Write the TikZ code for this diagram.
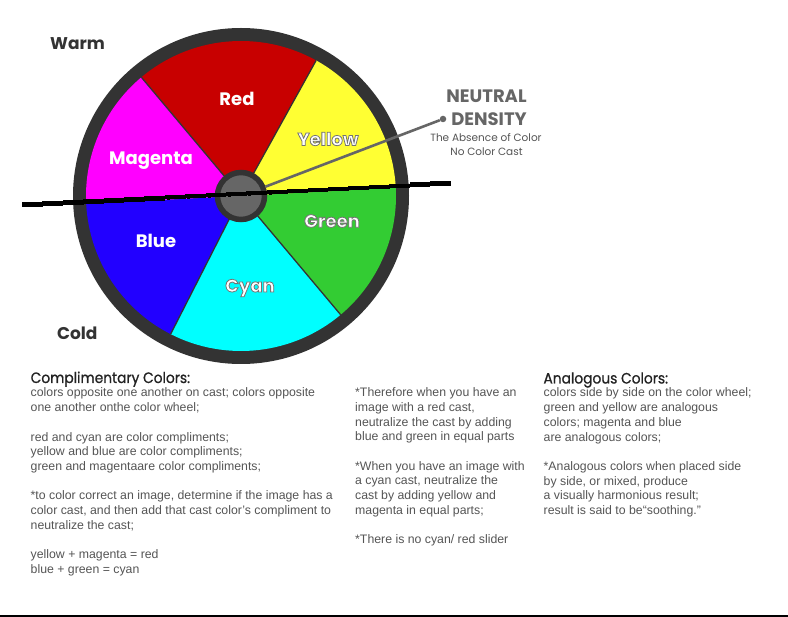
\documentclass[tikz,border=0pt]{standalone}
\usepackage{fontspec}
\setmainfont{Liberation Sans}
\newfontfamily\fut{Poppins}
\newfontfamily\futm{Poppins}[FakeBold=0.8, FakeStretch=0.92]
\definecolor{ringc}{HTML}{333333}
\definecolor{wred}{HTML}{C80000}
\definecolor{wyellow}{HTML}{FFFF33}
\definecolor{wmagenta}{HTML}{FF00FF}
\definecolor{wblue}{HTML}{2200FF}
\definecolor{wcyan}{HTML}{00FFFF}
\definecolor{wgreen}{HTML}{33CC33}
\definecolor{hubfill}{HTML}{666666}
\definecolor{bodytxt}{HTML}{555555}
\definecolor{titletxt}{HTML}{222222}
\newcommand\outlinetext[1]{\special{pdf:literal direct 2 Tr 0.8 w 0.45 0.45 0.45 RG}#1\special{pdf:literal direct 0 Tr}}
\tikzset{
  sector/.style={fill=#1},
  sepline/.style={draw=ringc, line width=1.3pt},
  wlabel/.style={text=white, font=\fut\bfseries\fontsize{18}{20}\selectfont, inner sep=0},
  olabel/.style={text=white, font=\fut\bfseries\fontsize{18}{20}\selectfont, inner sep=0},
  sidelabel/.style={text=ringc, font=\fut\bfseries\fontsize{17}{20}\selectfont, inner sep=0, anchor=base west},
  bodytext/.style={text=bodytxt, inner sep=0, anchor=base west},
  titletext/.style={text=titletxt, font=\futm\fontsize{15}{18}\selectfont, inner sep=0, anchor=base west},
}
\begin{document}
\begin{tikzpicture}[x=1pt,y=-1pt]
\useasboundingbox (0,0) rectangle (788,617);
\fill[white] (0,0) rectangle (788,617);
% wheel
\coordinate (c) at (241,196);
\fill[ringc] (c) circle (168pt);
\fill[sector=wyellow] (c) -- ++(3:155pt) arc[start angle=3, end angle=61, radius=155pt] -- cycle;
\fill[sector=wred] (c) -- ++(61:155pt) arc[start angle=61, end angle=130, radius=155pt] -- cycle;
\fill[sector=wmagenta] (c) -- ++(130:155pt) arc[start angle=130, end angle=183, radius=155pt] -- cycle;
\fill[sector=wblue] (c) -- ++(183:155pt) arc[start angle=183, end angle=243, radius=155pt] -- cycle;
\fill[sector=wcyan] (c) -- ++(243:155pt) arc[start angle=243, end angle=310, radius=155pt] -- cycle;
\fill[sector=wgreen] (c) -- ++(310:155pt) arc[start angle=310, end angle=363, radius=155pt] -- cycle;
\foreach \a in {61,130,243,310} \draw[sepline] (c) -- ++(\a:155pt);
% hub and pointer
\node[circle, minimum size=47pt, inner sep=0, fill=hubfill, draw=ringc, line width=5.5pt] (hub) at (c) {};
\node[circle, fill=hubfill, inner sep=0, minimum size=6.5pt] (dot) at (443,119) {};
\draw[hubfill, line width=2.6pt] (hub) -- (dot);
% slider: a stepped (jagged) slanted bar
\foreach \i in {0,...,20} {
  \pgfmathsetmacro\xx{22+20.4*\i}
  \pgfmathsetmacro\yy{205-0.0514*20.4*\i-2.6}
  \fill[black] (\xx,\yy) rectangle ++(20.8,4.4);
  \fill[black] (\xx+2,\yy+0.9) rectangle ++(3,3.8);
}
% wheel labels
\node[wlabel] (lred) at (237,99) {Red};
\node[wlabel] (lmag) at (151,161) {Magenta};
\node[wlabel] (lblue) at (156,241) {Blue};
\node[olabel] (lyel) at (328,139) {\outlinetext{Yellow}};
\node[olabel] (lgreen) at (332,221) {\outlinetext{Green}};
\node[olabel] (lcyan) at (250,288) {\outlinetext{Cyan}};
% side labels
\node[sidelabel] (warm) at (50,49.5) {Warm};
\node[sidelabel] (cold) at (57,340) {Cold};
% neutral density
\node[text=hubfill, font=\fut\bfseries\fontsize{18}{20}\selectfont, inner sep=0, anchor=base] (nd1) at (486.5,103) {NEUTRAL};
\node[text=hubfill, font=\fut\bfseries\fontsize{18}{20}\selectfont, inner sep=0, anchor=base] (nd2) at (489,126) {DENSITY};
\node[text=bodytxt, font=\fut\fontsize{10.5}{12}\selectfont, inner sep=0, anchor=base] (nd3) at (486,142) {The Absence of Color};
\node[text=bodytxt, font=\fut\fontsize{10.5}{12}\selectfont, inner sep=0, anchor=base] (nd4) at (486.5,156) {No Color Cast};
% titles
\node[titletext] (t1) at (30.5,383) {Complimentary Colors:};
\node[titletext] (t2) at (543.3,383.5) {Analogous Colors:};
% body
\node[bodytext] (b1) at (30.5,397) {\parbox[t]{320pt}{\fontsize{12.3}{14.7}\selectfont\raggedright
colors opposite one another on cast; colors opposite\\
one another onthe color wheel;\\
~\\
red and cyan are color compliments;\\
yellow and blue are color compliments;\\
green and magentaare color compliments;\\
~\\
{*}to color correct an image, determine if the image has a\\
color cast, and then add that cast color’s compliment to\\
neutralize the cast;\\
~\\
yellow + magenta = red\\
blue + green = cyan}};
\node[bodytext] (b2) at (355,396.7) {\parbox[t]{200pt}{\fontsize{12.3}{14.7}\selectfont\raggedright
{*}Therefore when you have an\\
image with a red cast,\\
neutralize the cast by adding\\
blue and green in equal parts\\
~\\
{*}When you have an image with\\
a cyan cast, neutralize the\\
cast by adding yellow and\\
magenta in equal parts;\\
~\\
{*}There is no cyan/ red slider}};
\node[bodytext] (b3) at (543.5,397) {\parbox[t]{240pt}{\fontsize{12.3}{14.7}\selectfont\raggedright
colors side by side on the color wheel;\\
green and yellow are analogous\\
colors; magenta and blue\\
are analogous colors;\\
~\\
{*}Analogous colors when placed side\\
by side, or mixed, produce\\
a visually harmonious result;\\
result is said to be“soothing.”}};
% bottom rule
\fill[black] (0,615) rectangle (788,617);
\end{tikzpicture}
\end{document}
